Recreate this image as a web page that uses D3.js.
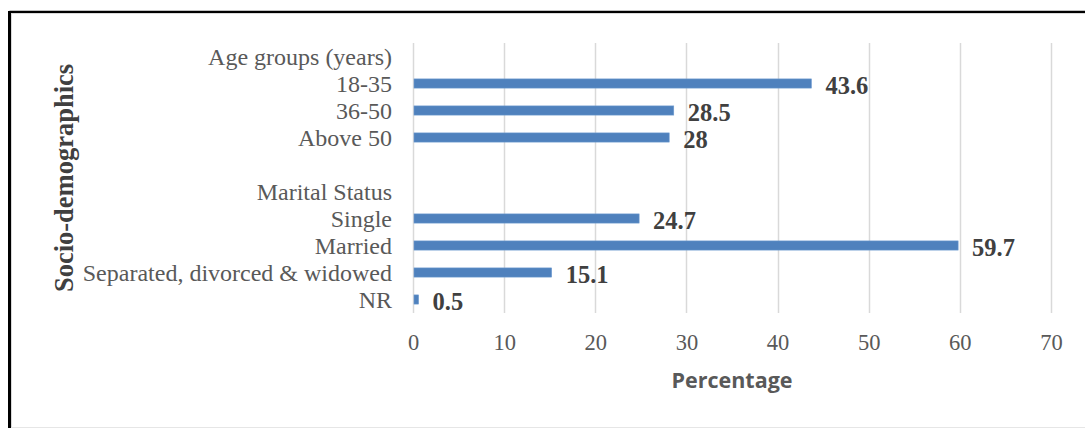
<!DOCTYPE html>
<html>
<head>
<meta charset="utf-8">
<script src="https://cdn.jsdelivr.net/npm/d3@7"></script>
<style>
  html, body { margin: 0; padding: 0; background: #fff; }
  svg { display: block; }
</style>
</head>
<body>
<script>
// Rows of the chart, top to bottom (group headings and a spacer row carry no value)
const categories = [
  "Age groups (years)", "18-35", "36-50", "Above 50", "",
  "Marital Status", "Single", "Married", "Separated, divorced & widowed", "NR"
];
const values = [null, 43.6, 28.5, 28, null, null, 24.7, 59.7, 15.1, 0.5];
const xTicks = [0, 10, 20, 30, 40, 50, 60, 70];
const xTitle = "Percentage";
const yTitle = "Socio-demographics";

const W = 1085, H = 428;
const plot = { left: 413, right: 1051, top: 43, bottom: 313 };
const serif = "'Liberation Serif', 'Times New Roman', serif";

const svg = d3.select("body").append("svg").attr("width", W).attr("height", H);

// frame around the figure
svg.append("line").attr("x1", 9.5).attr("x2", W).attr("y1", 12).attr("y2", 12)
  .attr("stroke", "#000").attr("stroke-width", 2.5);
svg.append("line").attr("x1", 9.5).attr("x2", 9.5).attr("y1", 11).attr("y2", H)
  .attr("stroke", "#000").attr("stroke-width", 3);
svg.append("line").attr("x1", 11).attr("x2", W).attr("y1", 13.5).attr("y2", 13.5)
  .attr("stroke", "#d9d9d9").attr("stroke-width", 1);
svg.append("line").attr("x1", 11.5).attr("x2", 11.5).attr("y1", 13).attr("y2", H)
  .attr("stroke", "#d9d9d9").attr("stroke-width", 1);
svg.append("line").attr("x1", 11).attr("x2", W).attr("y1", 427.5).attr("y2", 427.5)
  .attr("stroke", "#e6e6e6").attr("stroke-width", 1);

const x = d3.scaleLinear().domain([0, 70]).range([plot.left, plot.right]);
const y = d3.scaleBand().domain(d3.range(categories.length))
  .range([plot.top, plot.bottom]).paddingInner(0.66).paddingOuter(0.33);
const rowY = d3.scaleBand().domain(d3.range(categories.length))
  .range([plot.top, plot.bottom]);

// vertical gridlines
svg.append("g").selectAll("line").data(xTicks).join("line")
  .attr("x1", d => Math.round(x(d)) + 0.5).attr("x2", d => Math.round(x(d)) + 0.5)
  .attr("y1", plot.top).attr("y2", plot.bottom)
  .attr("stroke", "#d9d9d9").attr("stroke-width", 1.5);

// x axis tick labels
const xAxis = d3.axisBottom(x).tickValues(xTicks).tickSize(0).tickPadding(0).tickFormat(d3.format("d"));
const gx = svg.append("g").attr("transform", `translate(0,${plot.bottom + 29})`).call(xAxis);
gx.select(".domain").remove();
gx.selectAll("text")
  .attr("dy", "0.35em")
  .attr("font-family", serif)
  .attr("font-size", 22.5).attr("fill", "#595959");

// category labels
svg.append("g").selectAll("text").data(categories).join("text")
  .attr("x", plot.left - 21)
  .attr("y", (d, i) => rowY(i) + rowY.bandwidth() / 2)
  .attr("dy", "0.35em")
  .attr("text-anchor", "end")
  .attr("font-family", serif)
  .attr("font-size", 24).attr("fill", "#595959")
  .text(d => d);

// bars
const rows = values.map((v, i) => ({ v, i })).filter(d => d.v !== null);
svg.append("g").selectAll("rect").data(rows).join("rect")
  .attr("x", x(0) + 1)
  .attr("y", d => y(d.i))
  .attr("width", d => x(d.v) - x(0))
  .attr("height", y.bandwidth())
  .attr("fill", "#4f81bd")
  .attr("stroke", "#6d9ad0").attr("stroke-width", 0.6);

// value labels
svg.append("g").selectAll("text").data(rows).join("text")
  .attr("x", d => x(d.v) + 15)
  .attr("y", d => rowY(d.i) + rowY.bandwidth() / 2 + 2)
  .attr("dy", "0.35em")
  .attr("font-family", serif)
  .attr("font-weight", "bold")
  .attr("font-size", 24.5).attr("fill", "#404040")
  .text(d => d.v);

// axis titles
svg.append("text")
  .attr("x", (plot.left + plot.right) / 2).attr("y", 380)
  .attr("dy", "0.35em").attr("text-anchor", "middle")
  .attr("font-family", "'Open Sans', 'Liberation Sans', sans-serif")
  .attr("font-weight", "bold").attr("font-size", 21.5).attr("fill", "#595959")
  .text(xTitle);

svg.append("text")
  .attr("transform", `translate(64,${(plot.top + plot.bottom) / 2}) rotate(-90)`)
  .attr("dy", "0.35em").attr("text-anchor", "middle")
  .attr("font-family", serif)
  .attr("font-weight", "bold").attr("font-size", 26.5).attr("fill", "#404040")
  .text(yTitle);
</script>
</body>
</html>
